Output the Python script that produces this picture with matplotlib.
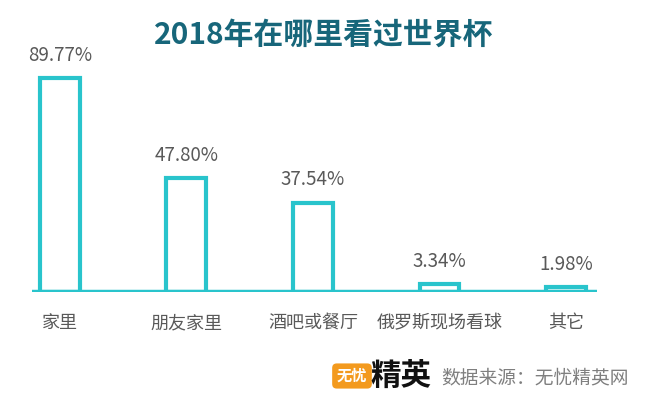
import matplotlib
matplotlib.use('Agg')
import matplotlib.pyplot as plt

plt.rcParams['font.family'] = ['Noto Sans CJK SC', 'DejaVu Sans']

categories = ['家里', '朋友家里', '酒吧或餐厅', '俄罗斯现场看球', '其它']
values = [89.77, 47.80, 37.54, 3.34, 1.98]
labels = ['89.77%', '47.80%', '37.54%', '3.34%', '1.98%']

teal = '#29c4cc'
gray = '#595959'

fig = plt.figure(figsize=(6.47, 3.99), dpi=100)
ax = fig.add_axes([32/647, 107/399, 565/647, 238.4/399])

x = range(len(categories))
ax.bar(x, values, width=0.316, color='white', edgecolor=teal, linewidth=3.0, zorder=2)
ax.axhline(0, color=teal, linewidth=3.2, zorder=3)

for i, (v, t) in enumerate(zip(values, labels)):
    ax.text(i, v + 9.6, t, ha='center', va='center', fontsize=13.5, color=gray)
    ax.text(i, -13, categories[i], ha='center', va='center', fontsize=13, color=gray)

ax.set_xlim(-0.221, 4.245)
ax.set_ylim(0, 100)
ax.axis('off')

fig.text(0.5, 1 - 35/399, '2018年在哪里看过世界杯', ha='center', va='center',
         fontsize=21.5, fontweight='bold', color='#17667a')

# logo and source
fig.text(352/647, 1 - 376/399, '无忧', ha='center', va='center', fontsize=11,
         fontweight='bold', color='white',
         bbox=dict(boxstyle='round,pad=0.3', facecolor='#f39a1e', edgecolor='none'))
fig.text(401/647, 1 - 376/399, '精英', ha='center', va='center', fontsize=22,
         fontweight='black', color='#111111')
fig.text(535/647, 1 - 378/399, '数据来源：无忧精英网', ha='center', va='center',
         fontsize=13.5, color='#7f7f7f')

fig.savefig('out.png', dpi=100)
